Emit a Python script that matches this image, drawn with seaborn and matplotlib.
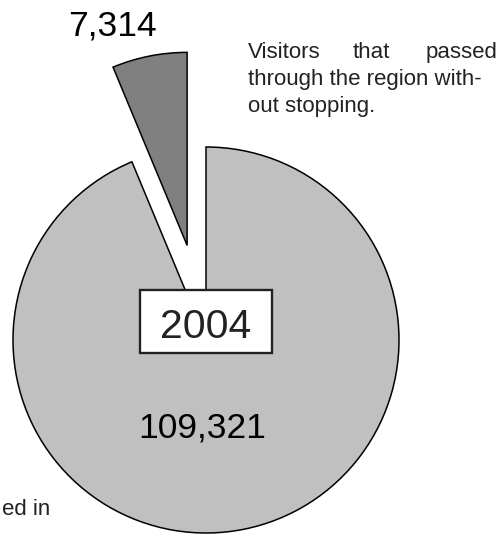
import matplotlib
matplotlib.use("Agg")
import matplotlib.pyplot as plt
import seaborn as sns
from matplotlib.patches import Rectangle

# ---- data ----
categories = ["Visitors that stayed in the region",
              "Visitors that passed through the region without stopping"]
visitors = [109321, 7314]
value_labels = ["109,321", "7,314"]
year_label = "2004"
slice_colors = ["#c0c0c0", "#808080"]

sns.set_theme(style="white")
plt.rcParams['font.family'] = ['Liberation Sans', 'DejaVu Sans']

W, H = 502, 536
fig = plt.figure(figsize=(W / 100, H / 100), dpi=100)
fig.patch.set_facecolor("white")
ax = fig.add_axes([0, 0, 1, 1])


def Y(py):
    return H - py


R = 193
cx, cy = 206, Y(340)
ax.pie(visitors, colors=slice_colors, startangle=90, counterclock=False,
       explode=[0, 0.5 * R], radius=R, center=(cx, cy), frame=True,
       wedgeprops=dict(edgecolor="black", linewidth=1.1))
ax.set_xlim(0, W)
ax.set_ylim(0, H)
ax.set_aspect("equal")
ax.axis("off")

# year box
ax.add_patch(Rectangle((140, Y(353)), 132, 63, facecolor="white",
                       edgecolor="#222222", linewidth=1.7, zorder=5))
ax.text(206, Y(338), year_label, ha="center", va="baseline",
        fontsize=29.5, color="#222222", zorder=6)

# value labels
ax.text(202, Y(438), value_labels[0], ha="center", va="baseline",
        fontsize=25.5, color="black", zorder=6)
ax.text(112, Y(35), value_labels[1], ha="center", va="baseline",
        fontsize=25.5, color="black", zorder=6)

# annotation top-right (justified first line)
fs = 16
col = "#222222"
ax.text(248, Y(58), "Visitors", ha="left", va="baseline", fontsize=fs, color=col)
ax.text(371, Y(58), "that", ha="center", va="baseline", fontsize=fs, color=col)
ax.text(497, Y(58), "passed", ha="right", va="baseline", fontsize=fs, color=col)
ax.text(248, Y(85), "through the region with-", ha="left", va="baseline",
        fontsize=fs, color=col)
ax.text(248, Y(112), "out stopping.", ha="left", va="baseline",
        fontsize=fs, color=col)

# annotation bottom-left (cut by the figure edge)
ax.text(50, Y(515), "ed in", ha="right", va="baseline", fontsize=fs, color=col)

fig.savefig("out.png", dpi=100, facecolor="white")
